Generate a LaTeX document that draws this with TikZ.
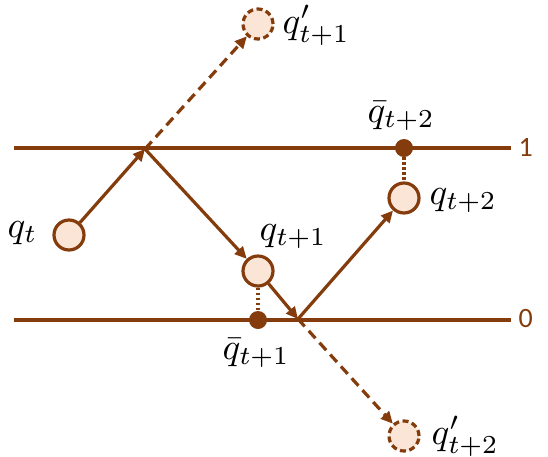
\documentclass[tikz,border=0pt]{standalone}
\usepackage{fontspec}
\newfontfamily\carl{Carlito}
\usetikzlibrary{arrows.meta}
\definecolor{brn}{RGB}{132,60,12}
\definecolor{lfill}{RGB}{251,229,214}
\begin{document}
\begin{tikzpicture}[x=1pt,y=-1pt,
  ln/.style={draw=brn,line width=3.2pt},
  arr/.style={ln,-{Triangle[length=12pt,width=11pt]}},
  darr/.style={arr,dash pattern=on 10pt off 6pt},
  dotl/.style={draw=brn,line width=3.2pt,dash pattern=on 2.5pt off 2.5pt},
  circ/.style={circle,draw=brn,fill=lfill,line width=3.2pt,minimum size=30pt,inner sep=0pt},
  dcirc/.style={circ,dash pattern=on 6pt off 3.5pt},
  bdot/.style={circle,fill=brn,minimum size=18pt,inner sep=0pt},
  lab/.style={anchor=base west,inner sep=0pt,scale=3.7},
  num/.style={anchor=west,inner sep=0pt,text=brn,font=\carl,scale=2.8}]
\useasboundingbox (0,0) rectangle (548,456);
% horizontal lines
\coordinate (T1) at (14,148);
\coordinate (T2) at (511,148);
\coordinate (B1) at (14,320);
\coordinate (B2) at (511,320);
\draw[ln] (T1) -- (T2);
\draw[ln] (B1) -- (B2);
\node[num] (one) at (518,147) {1};
\node[num] (zero) at (518,319) {0};
% nodes
\node[circ] (qt) at (69,235) {};
\node[dcirc] (qp1) at (258,24) {};
\node[circ] (q1) at (258,271) {};
\node[bdot] (b1) at (258,320) {};
\node[circ] (q2) at (404,198) {};
\node[bdot] (b2) at (404,148) {};
\node[dcirc] (qp2) at (404,436) {};
\coordinate (A) at (145,149);
\coordinate (B) at (298,319);
% connectors
\draw[dotl] (q1) -- (b1);
\draw[dotl] (b2) -- (q2);
\draw[arr] (qt) -- (A);
\draw[arr] (A) -- (q1);
\draw[darr] (A) -- (qp1);
\draw[arr] (q1) -- (B);
\draw[arr] (B) -- (q2);
\draw[darr] (B) -- (qp2);
% labels
\node[lab] (lqt) at (7,237) {$q_t$};
\node[lab] (lqp1) at (282,33) {$q'_{t+1}$};
\node[lab] (lq1) at (259,240) {$q_{t+1}$};
\node[lab] (lb1) at (222,359) {$\bar{q}_{t+1}$};
\node[lab] (lq2) at (429,204) {$q_{t+2}$};
\node[lab] (lb2) at (367,122) {$\bar{q}_{t+2}$};
\node[lab] (lqp2) at (431,444) {$q'_{t+2}$};
\end{tikzpicture}
\end{document}
